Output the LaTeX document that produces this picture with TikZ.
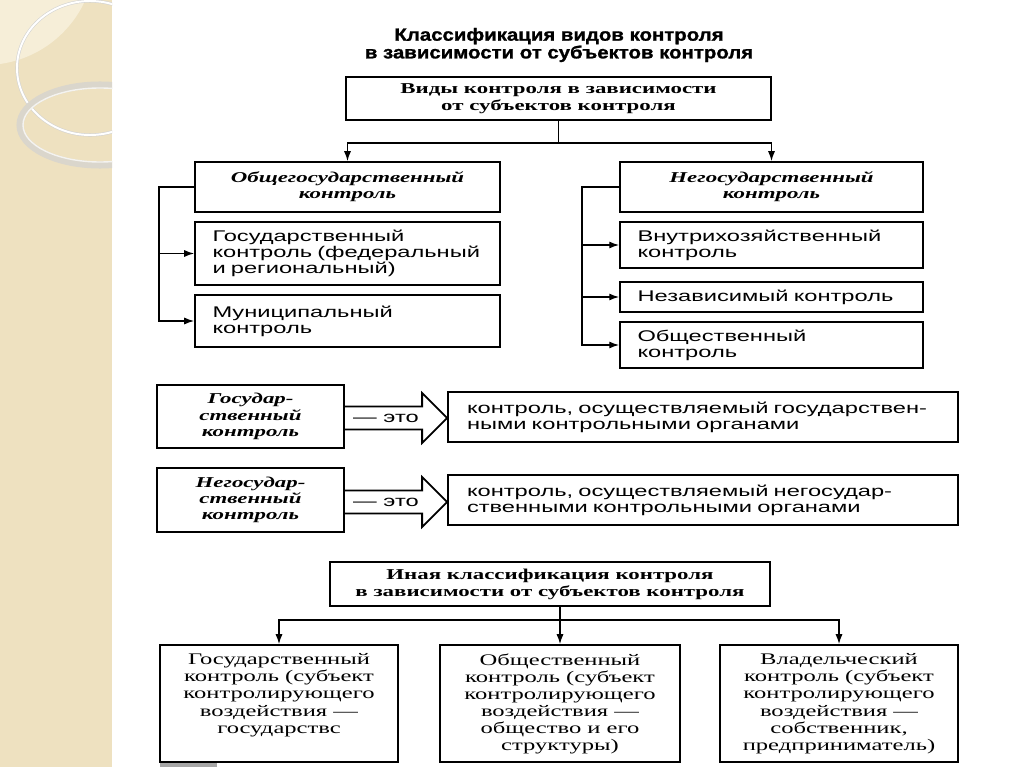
\documentclass[tikz,border=0pt]{standalone}
\usepackage{fontspec}
\setmainfont{Liberation Serif}
\newfontfamily\hdsans{Liberation Sans}[FakeStretch=1.16,FakeBold=1.2]
\newfontfamily\boxsans{Liberation Sans}[FakeStretch=1.53]
\newfontfamily\boxserif{Liberation Serif}[FakeStretch=1.52]
\usetikzlibrary{arrows.meta,calc,positioning}
\definecolor{stripBg}{RGB}{238,225,192}
\definecolor{stripLt}{RGB}{246,238,216}
\definecolor{ringGr}{RGB}{218,214,204}
% hollow "это" arrow between two boxes, at the height of a label node
\newcommand{\etoarrow}[3]{%
  \draw[line width=1.3pt, line join=miter]
    ($(#1.east|-#3)+(0,11.5)$) -- ($(#2.west|-#3)+(-25,11.5)$)
    -- ($(#2.west|-#3)+(-25,25)$) -- (#2.west|-#3)
    -- ($(#2.west|-#3)+(-25,-25)$) -- ($(#2.west|-#3)+(-25,-11.5)$)
    -- ($(#1.east|-#3)+(0,-11.5)$);}

\begin{document}
\begin{tikzpicture}[x=0.025cm, y=-0.025cm,
  bx/.style n args={2}{draw, line width=1.3pt, minimum width=#1*0.025cm,
    minimum height=#2*0.025cm, inner sep=0pt},
  hd/.style={font=\boxserif\bfseries\fontsize{10.7}{12}\selectfont, align=center},
  hdit/.style={font=\boxserif\bfseries\itshape\fontsize{10.7}{11.5}\selectfont, align=center},
  sn/.style={font=\boxsans\fontsize{11}{11.2}\selectfont, align=left, text width=#1*0.025cm},
  df/.style={font=\boxsans\fontsize{11}{11.5}\selectfont, align=left, text width=#1*0.025cm},
  sb/.style={font=\boxserif\fontsize{11.5}{12.2}\selectfont, align=center, inner sep=0pt},
  arr/.style={-{Latex[length=7pt,width=5pt]}, line width=0.9pt},
  ln/.style={line width=0.9pt},
]
\useasboundingbox (0,0) rectangle (1024,767);
\fill[white] (0,0) rectangle (1024,767);

% slide strip on the left
\begin{scope}
  \clip (0,0) rectangle (112,767);
  \fill[stripBg] (0,0) rectangle (112,767);
  \fill[stripLt] (-15,-45) circle (110);
  \draw[gray!35, line width=2.2pt] (90,68) ellipse (73 and 67);
  \draw[white, line width=1.4pt] (90,68) ellipse (73 and 67);
  \draw[ringGr, line width=5pt] (100,125) ellipse (80 and 40);
  \draw[white!70!ringGr, line width=1pt] (100,125) ellipse (77 and 37);
\end{scope}
\fill[gray!70] (160,763) rectangle (217,767);

% title
\node[font=\hdsans\bfseries\fontsize{12.5}{12.6}\selectfont, align=center] (ttl) at (559,45)
  {Классификация видов контроля\\в зависимости от субъектов контроля};

\node[bx={425}{43}, hd] (top) at (558.5,98.5) {Виды контроля в зависимости\\от субъектов контроля};

% left column
\node[bx={305}{50}, hdit] (og) at (347.5,187) {Общегосударственный\\контроль};
\node[bx={305}{63}, sn=270] (gos) at (347.5,253.5) {Государственный\\контроль (федеральный\\и региональный)};
\node[bx={305}{52}, sn=270] (mun) at (347.5,321) {Муниципальный\\контроль};

% right column
\node[bx={303}{50}, hdit] (ng) at (771.5,187) {Негосударственный\\контроль};
\node[bx={303}{46}, sn=268] (vn) at (771.5,245) {Внутрихозяйственный\\контроль};
\node[bx={303}{30}, sn=268] (nez) at (771.5,297) {Независимый контроль};
\node[bx={303}{46}, sn=268] (ob) at (771.5,345) {Общественный\\контроль};

\coordinate (j1) at (558.5,143);
\draw[ln] (top.south) -- (j1);
\draw[arr] (j1) -| (og.north);
\draw[arr] (j1) -| (ng.north);
\draw[arr] (og.west) -- ++(-35,0) |- (gos.west);
\draw[arr] (og.west) -- ++(-35,0) |- (mun.west);
\draw[arr] (ng.west) -- ++(-37,0) |- (vn.west);
\draw[arr] (ng.west) -- ++(-37,0) |- (nez.west);
\draw[arr] (ng.west) -- ++(-37,0) |- (ob.west);

% definitions
\node[bx={187}{63}, hdit] (d1l) at (250.5,416.5) {Государ-\\ственный\\контроль};
\node[bx={510}{50}, df=472] (d1r) at (703,417) {контроль, осуществляемый государствен-\\ными контрольными органами};
\node[font=\boxsans\fontsize{11}{11}\selectfont] (e1) at (386,418) {— это};
\etoarrow{d1l}{d1r}{e1}

\node[bx={187}{64}, hdit] (d2l) at (250.5,500) {Негосудар-\\ственный\\контроль};
\node[bx={510}{50}, df=472] (d2r) at (703,500) {контроль, осуществляемый негосудар-\\ственными контрольными органами};
\node[font=\boxsans\fontsize{11}{11}\selectfont] (e2) at (386,502) {— это};
\etoarrow{d2l}{d2r}{e2}

% other classification
\node[bx={440}{44}, hd] (ina) at (550,584) {Иная классификация контроля\\в зависимости от субъектов контроля};
\node[bx={238}{117}] (b1) at (279,703.5) {};
\node[bx={240}{117}] (b2) at (560,703.5) {};
\node[bx={238}{117}] (b3) at (839,703.5) {};
\node[sb, below=6.5pt of b1.north] (t1) {Государственный\\контроль (субъект\\контролирующего\\воздействия —\\государствс};
\node[sb, below=6.5pt of b2.north] (t2) {Общественный\\контроль (субъект\\контролирующего\\воздействия —\\общество и его\\структуры)};
\node[sb, below=6.5pt of b3.north] (t3) {Владельческий\\контроль (субъект\\контролирующего\\воздействия —\\собственник,\\предприниматель)};

\coordinate (j2) at (560,620);
\draw[ln] (ina.south -| j2) -- (j2);
\draw[arr] (j2) -| (b1.north);
\draw[arr] (j2) -- (b2.north);
\draw[arr] (j2) -| (b3.north);
\end{tikzpicture}
\end{document}
